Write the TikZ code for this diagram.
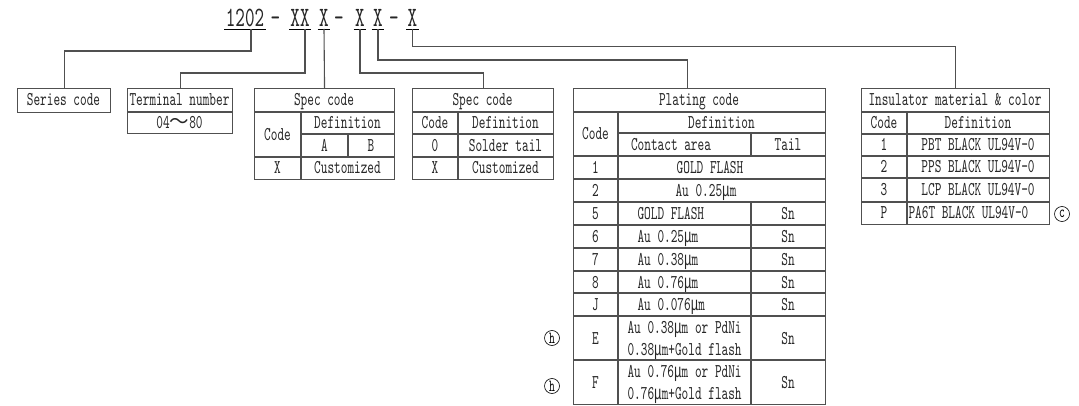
\documentclass[tikz,border=0pt]{standalone}
\usepackage{fontspec}
\setmainfont{lmmono10-regular.otf}[FakeStretch=0.65]
\newfontfamily\mufont[FakeStretch=0.65]{Liberation Mono}
\newfontfamily\cjk{Noto Sans CJK SC}
\usetikzlibrary{calc}
\definecolor{lncol}{HTML}{505050}
\newcounter{tn}
\newcommand\mum{{\mufont μ}m}
\newcommand\tc[3]{\stepcounter{tn}\node[txt] (c\thetn) at (#1,#2+6) {#3};}
\newcommand\tw[3]{\stepcounter{tn}\node[txt,anchor=base west] (c\thetn) at (#1,#2+6) {#3};}
\begin{document}
\begin{tikzpicture}[x=1pt,y=-1pt,line width=1.1pt,
  txt/.style={anchor=base,inner sep=0pt,font=\fontsize{19.5}{21}\selectfont,text=black!85},
  ttl/.style={anchor=base,inner sep=0pt,font=\fontsize{28}{30}\selectfont,text=black!85},
  frame/.style={draw=lncol,anchor=north west,inner sep=0pt},
  conn/.style={draw=lncol,line width=1.1pt},
  grid/.style={draw=lncol,line width=1.1pt},
  circ/.style={circle,draw=black,line width=0.6pt,inner sep=0pt,minimum size=15pt,font=\fontsize{17}{17}\selectfont}]
\useasboundingbox[fill=white] (0,0) rectangle (1079,406);

% ---------- title ----------
\node[ttl] (t1) at (245,27) {1202};
\node[ttl] (t2) at (275.5,27) {-};
\node[ttl] (t3) at (300,27) {XX};
\node[ttl] (t4) at (324,27) {X};
\node[ttl] (t5) at (339,27) {-};
\node[ttl] (t6) at (360,27) {X};
\node[ttl] (t7) at (378,27) {X};
\node[ttl] (t8) at (394,27) {-};
\node[ttl] (t9) at (412.5,27) {X};
\foreach \n in {t1,t3,t4,t6,t7,t9}
  \draw[line width=0.9pt] ([yshift=-2pt,xshift=-1pt]\n.base west) -- ([yshift=-2pt,xshift=1pt]\n.base east);

% ---------- boxes ----------
\node[frame,minimum width=93pt,minimum height=24pt] (series) at (17,88) {};
\node[frame,minimum width=105pt,minimum height=45pt] (term) at (127,88) {};
\node[frame,minimum width=140pt,minimum height=91pt] (spec1) at (254,88) {};
\node[frame,minimum width=141pt,minimum height=91pt] (spec2) at (412,88) {};
\node[frame,minimum width=252pt,minimum height=316pt] (plat) at (573,88) {};
\node[frame,minimum width=188pt,minimum height=136pt] (ins) at (861,88) {};

% ---------- connectors ----------
\draw[conn] ($(t1.base)+(6,2)$) -- ++(0,22) -| (series.north);
\draw[conn] ($(t3.base)+(5,2)$) -- ++(0,44) -| (term.north);
\draw[conn] ($(t4.base)+(0,2)$) -- (spec1.north);
\draw[conn] ($(t6.base)+(0,2)$) -- ++(0,44) -| (spec2.north);
\draw[conn] ($(t7.base)+(0,2)$) -- ++(0,31) -| ($(plat.north)+(-12,0)$);
\draw[conn] ($(t9.base)+(0,2)$) -- ++(0,17.5) -| (ins.north);

% ---------- series ----------
\tc{63.5}{100}{Series code}

% ---------- terminal ----------
\draw[grid] (127,112) -- (232,112);
\tc{179.5}{100}{Terminal number}
\tc{179.5}{122.5}{04{\cjk ～}80}

% ---------- spec 1 ----------
\draw[grid] (254,112) -- (394,112);
\draw[grid] (301,134) -- (394,134);
\draw[grid] (254,157) -- (394,157);
\draw[grid] (301,112) -- (301,179);
\draw[grid] (348,134) -- (348,157);
\tc{324}{100}{Spec code}
\tc{277.5}{134.5}{Code}
\tc{347.5}{123}{Definition}
\tc{324.5}{145.5}{A}
\tc{371}{145.5}{B}
\tc{277.5}{168}{X}
\tc{347.5}{168}{Customized}

% ---------- spec 2 ----------
\foreach \yy in {112,134,157} \draw[grid] (412,\yy) -- (553,\yy);
\draw[grid] (458,112) -- (458,179);
\tc{482.5}{100}{Spec code}
\tc{435}{123}{Code}
\tc{505.5}{123}{Definition}
\tc{435}{145.5}{0}
\tc{505.5}{145.5}{Solder tail}
\tc{435}{168}{X}
\tc{505.5}{168}{Customized}

% ---------- plating ----------
\draw[grid] (573,112) -- (825,112);
\draw[grid] (618,133) -- (825,133);
\foreach \yy in {156,179,202,225,248,271,293,316,360} \draw[grid] (573,\yy) -- (825,\yy);
\draw[grid] (618,112) -- (618,404);
\draw[grid] (751,133) -- (751,156);
\draw[grid] (751,202) -- (751,404);
\tc{699}{100}{Plating code}
\tc{595.5}{134}{Code}
\tc{721.5}{122.5}{Definition}
\tc{671}{144.5}{Contact area}
\tc{788}{144.5}{Tail}
\tc{595.5}{167.5}{1}
\tc{710}{167.5}{GOLD FLASH}
\tc{595.5}{190.5}{2}
\tc{706}{190.5}{Au 0.25\mum}
\tc{595.5}{213.5}{5}
\tw{637}{213.5}{GOLD FLASH}
\tc{788}{213.5}{Sn}
\tc{595.5}{236.5}{6}
\tw{637}{236.5}{Au 0.25\mum}
\tc{788}{236.5}{Sn}
\tc{595.5}{259.5}{7}
\tw{637}{259.5}{Au 0.38\mum}
\tc{788}{259.5}{Sn}
\tc{595.5}{282}{8}
\tw{637}{282}{Au 0.76\mum}
\tc{788}{282}{Sn}
\tc{595.5}{304.5}{J}
\tw{637}{304.5}{Au 0.076\mum}
\tc{788}{304.5}{Sn}
\tc{595.5}{338}{E}
\tw{627}{327}{Au 0.38\mum{} or PdNi}
\tw{627}{349.5}{0.38\mum+Gold flash}
\tc{788}{338}{Sn}
\tc{595.5}{382}{F}
\tw{627}{371}{Au 0.76\mum{} or PdNi}
\tw{627}{393.5}{0.76\mum+Gold flash}
\tc{788}{382}{Sn}

% ---------- insulator ----------
\foreach \yy in {112,134,156,178,202} \draw[grid] (861,\yy) -- (1049,\yy);
\draw[grid] (907,112) -- (907,224);
\tc{955}{100}{Insulator material \& color}
\tc{884}{123}{Code}
\tc{978}{123}{Definition}
\tc{884}{145}{1}
\tc{978}{145}{PBT BLACK UL94V-0}
\tc{884}{167}{2}
\tc{978}{167}{PPS BLACK UL94V-0}
\tc{884}{190}{3}
\tc{978}{190}{LCP BLACK UL94V-0}
\tc{884}{213}{P}
\tw{908}{213}{PA6T BLACK UL94V-0}

% ---------- circled marks ----------
\node[circ] (h1) at (552,338) {h};
\node[circ] (h2) at (552,386) {h};
\node[circ] (cc) at (1062,214) {c};
\end{tikzpicture}
\end{document}
